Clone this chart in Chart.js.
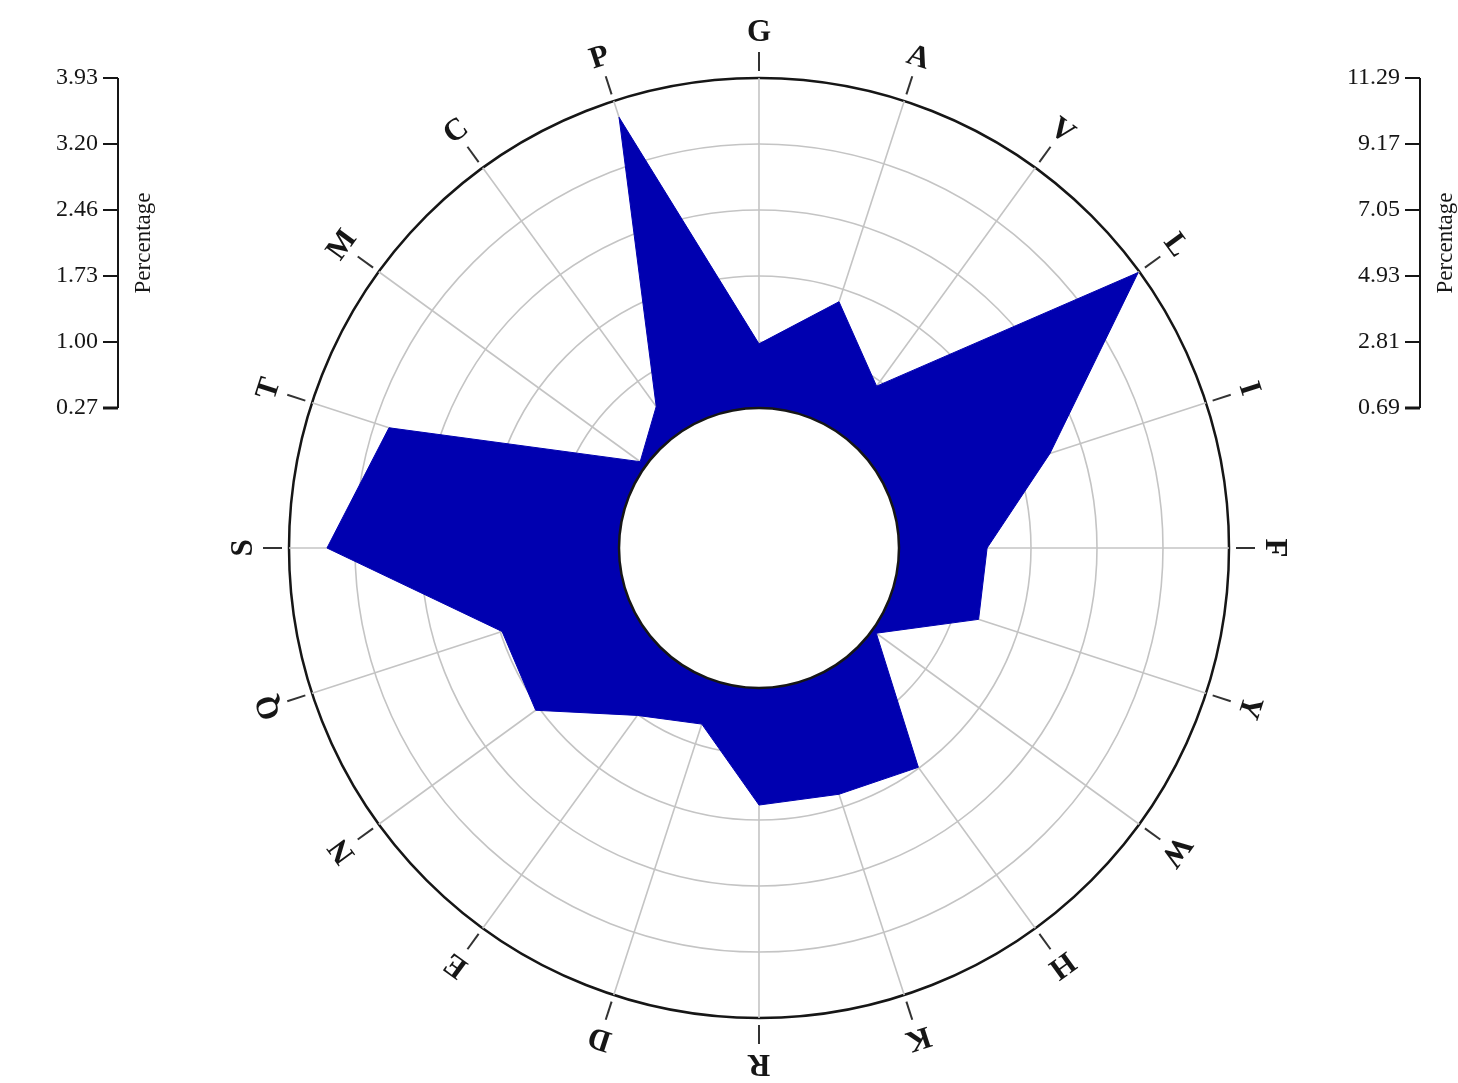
<!DOCTYPE html>
<html>
<head>
<meta charset="utf-8">
<script src="https://cdn.jsdelivr.net/npm/chart.js@4/dist/chart.umd.min.js"></script>
<style>
  html, body { margin: 0; padding: 0; background: #ffffff; }
  #wrap { width: 1458px; height: 1083px; position: relative; }
</style>
</head>
<body>
<div id="wrap"><canvas id="c" width="1458" height="1083"></canvas></div>
<script>
// ---- data ----
const categories = ['G','A','V','L','I','F','Y','W','H','K','R','D','E','N','Q','S','T','M','C','P'];
const percentages = [2.75, 4.51, 2.62, 11.25, 6.02, 3.52, 3.61, 0.85, 4.90, 4.51, 4.45, 2.14, 2.84, 5.06, 4.87, 10.07, 8.69, 0.91, 1.81, 10.74];
const rightTicks = [0.69, 2.81, 4.93, 7.05, 9.17, 11.29];
const leftTickLabels = ['0.27', '1.00', '1.73', '2.46', '3.20', '3.93'];
const rightTickLabels = ['0.69', '2.81', '4.93', '7.05', '9.17', '11.29'];
const axisTitle = 'Percentage';

// ---- styling / geometry ----
const holeFraction = 140 / 470;
const rMax = rightTicks[rightTicks.length - 1];
const rInner = rightTicks[0];
const rMin = rInner - (rMax - rInner) * holeFraction / (1 - holeFraction);
const FILL = '#0000B0';
const GRID = '#c4c4c4';
const DARK = '#161616';

const decorPlugin = {
  id: 'decor',
  afterDatasetsDraw(chart) {
    const s = chart.scales.r;
    const ctx = chart.ctx;
    const rh = s.getDistanceFromCenterForValue(rInner);
    ctx.save();
    ctx.beginPath();
    ctx.arc(s.xCenter, s.yCenter, rh, 0, Math.PI * 2);
    ctx.fillStyle = '#ffffff';
    ctx.fill();
    ctx.lineWidth = 2.5;
    ctx.strokeStyle = DARK;
    ctx.stroke();
    ctx.restore();
  },
  afterDraw(chart) {
    const s = chart.scales.r;
    const ctx = chart.ctx;
    const R = s.getDistanceFromCenterForValue(rMax);
    ctx.save();
    // category ticks + rotated labels
    categories.forEach((lab, i) => {
      const a = s.getIndexAngle(i);
      const p1 = s.getPointPosition(i, R + 7);
      const p2 = s.getPointPosition(i, R + 26);
      ctx.beginPath();
      ctx.moveTo(p1.x, p1.y);
      ctx.lineTo(p2.x, p2.y);
      ctx.lineWidth = 2;
      ctx.strokeStyle = '#333';
      ctx.stroke();
      const pl = s.getPointPosition(i, R + 46);
      ctx.save();
      ctx.translate(pl.x, pl.y);
      ctx.rotate(a);
      ctx.font = 'bold 31px "Liberation Serif", "DejaVu Serif", serif';
      ctx.fillStyle = DARK;
      ctx.textAlign = 'center';
      ctx.textBaseline = 'middle';
      ctx.fillText(lab, 0, 1);
      ctx.restore();
    });

    // side axes
    const drawSideAxis = (xLine, labels, titleX) => {
      const ys = rightTicks.map(v => s.yCenter - s.getDistanceFromCenterForValue(v));
      ctx.strokeStyle = DARK;
      ctx.lineWidth = 2;
      ctx.beginPath();
      ctx.moveTo(xLine, ys[0]);
      ctx.lineTo(xLine, ys[ys.length - 1]);
      ctx.stroke();
      ctx.font = '24px "Liberation Serif", "DejaVu Serif", serif';
      ctx.fillStyle = DARK;
      ctx.textAlign = 'right';
      ctx.textBaseline = 'middle';
      ys.forEach((y, k) => {
        ctx.beginPath();
        ctx.moveTo(xLine - 15, y);
        ctx.lineTo(xLine, y);
        ctx.lineWidth = k === 0 ? 3 : 2;
        ctx.stroke();
        ctx.fillText(labels[k], xLine - 20, y);
      });
      ctx.save();
      ctx.translate(titleX, (ys[0] + ys[ys.length - 1]) / 2 - 0);
      ctx.rotate(-Math.PI / 2);
      ctx.font = '23px "Liberation Serif", "DejaVu Serif", serif';
      ctx.textAlign = 'center';
      ctx.textBaseline = 'middle';
      ctx.fillText(axisTitle, 0, 0);
      ctx.restore();
    };
    drawSideAxis(118, leftTickLabels, 144);
    drawSideAxis(1420, rightTickLabels, 1446);
    ctx.restore();
  }
};

new Chart(document.getElementById('c'), {
  type: 'radar',
  data: {
    labels: categories,
    datasets: [{
      data: percentages,
      backgroundColor: FILL,
      borderColor: FILL,
      borderWidth: 1,
      pointRadius: 0,
      fill: 'start',
      tension: 0
    }]
  },
  options: {
    responsive: false,
    animation: false,
    devicePixelRatio: 1,
    layout: { padding: { left: 289, right: 229, top: 78, bottom: 65 } },
    plugins: { legend: { display: false }, tooltip: { enabled: false } },
    scales: {
      r: {
        min: rMin,
        max: rMax,
        startAngle: 0,
        afterBuildTicks: (sc) => { sc.ticks = rightTicks.map(v => ({ value: v })); },
        afterFit: (sc) => {
          sc.xCenter = sc.left + sc.width / 2;
          sc.yCenter = sc.top + sc.height / 2;
          sc.drawingArea = Math.min(sc.width, sc.height) / 2;
        },
        ticks: { display: false },
        pointLabels: { display: false },
        grid: {
          circular: true,
          color: (c) => (c.tick && c.tick.value === rMax) ? DARK : GRID,
          lineWidth: (c) => (c.tick && c.tick.value === rMax) ? 2.5 : 1.6
        },
        angleLines: { color: GRID, lineWidth: 1.6 }
      }
    }
  },
  plugins: [decorPlugin]
});
</script>
</body>
</html>
